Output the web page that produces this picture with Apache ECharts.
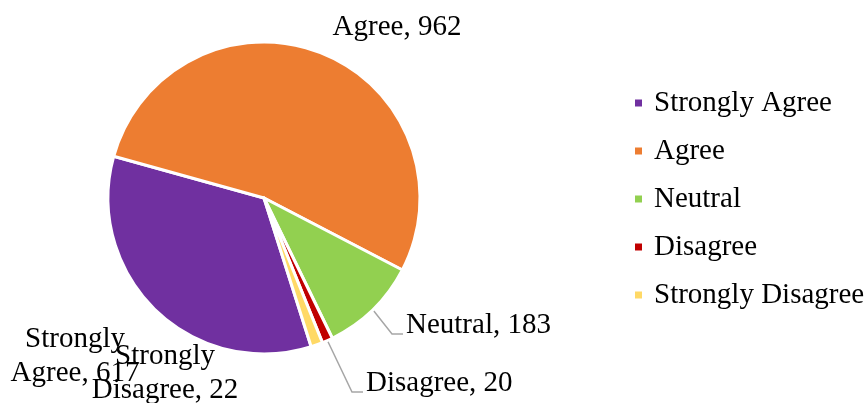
<!DOCTYPE html>
<html>
<head>
<meta charset="utf-8">
<script src="https://cdn.jsdelivr.net/npm/echarts@6/dist/echarts.min.js"></script>
<style>html,body{margin:0;padding:0;background:#fff}#c{width:868px;height:403px}</style>
</head>
<body>
<div id="c"></div>
<script>
const categories = ['Strongly Agree', 'Agree', 'Neutral', 'Disagree', 'Strongly Disagree'];
const values = [617, 962, 183, 20, 22];
const colors = ['#7030a0', '#ed7d31', '#92d050', '#c00000', '#ffd966'];
const labelTexts = ['Strongly\nAgree, 617', 'Agree, 962', 'Neutral, 183', 'Disagree, 20', 'Strongly\nDisagree, 22'];

const FONT = '"Liberation Serif", "Times New Roman", serif';
const chart = echarts.init(document.getElementById('c'), null, {renderer: 'canvas'});

// label anchor placements (text positions only)
const labelPos = [
  {x: 75, y: 356, align: 'center', line: false},
  {x: 397, y: 27, align: 'center', line: false},
  {x: 406, y: 325, align: 'left', line: true},
  {x: 366, y: 383, align: 'left', line: true},
  {x: 165, y: 373, align: 'center', line: false}
];

const data = categories.map((c, i) => ({
  name: c,
  value: values[i],
  itemStyle: {color: colors[i]},
  label: {formatter: labelTexts[i]},
  labelLine: {show: labelPos[i].line}
}));

chart.setOption({
  animation: false,
  backgroundColor: '#fff',
  legend: {
    orient: 'vertical',
    left: 633,
    top: 79,
    padding: 0,
    itemWidth: 9,
    itemHeight: 9,
    itemGap: 0,
    icon: 'rect',
    data: categories,
    textStyle: {fontFamily: FONT, fontSize: 29, color: '#000', lineHeight: 48, padding: [0, 0, 0, 6]}
  },
  series: [{
    type: 'pie',
    center: [264, 198],
    radius: 156,
    startAngle: 287.6,
    clockwise: true,
    data: data,
    itemStyle: {borderColor: '#fff', borderWidth: 3},
    label: {
      show: true,
      position: 'outside',
      fontFamily: FONT,
      fontSize: 29,
      color: '#000',
      lineHeight: 34,
      overflow: 'none'
    },
    labelLine: {
      show: true,
      lineStyle: {color: '#a6a6a6', width: 1.5}
    },
    labelLayout: function (params) {
      const p = labelPos[params.dataIndex];
      const res = {x: p.x, y: p.y, align: p.align, verticalAlign: 'middle', hideOverlap: false, moveOverlap: null, width: 300};
      if (p.line && params.labelLinePoints) {
        const s = params.labelLinePoints[0];
        const ly = p.y + 9;
        res.labelLinePoints = [[s[0], s[1]], [p.x - 14, ly], [p.x - 3, ly]];
      }
      return res;
    }
  }]
});
</script>
</body>
</html>
